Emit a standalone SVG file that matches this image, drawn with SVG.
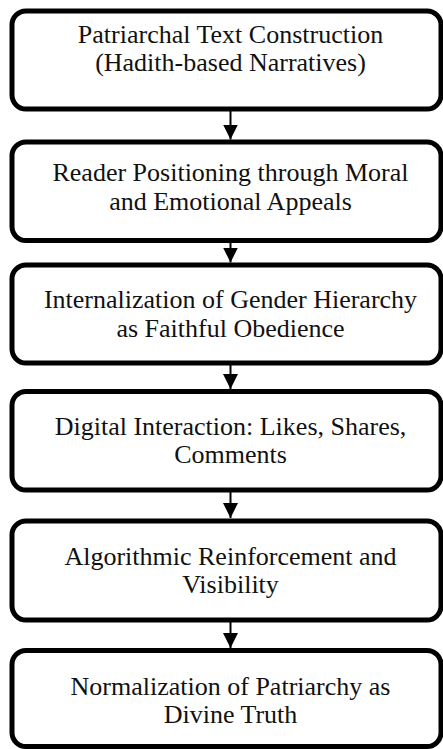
<svg xmlns="http://www.w3.org/2000/svg" width="443" height="749" viewBox="0 0 443 749">
  <style>
    .box { fill: #ffffff; stroke: #000000; stroke-width: 5; }
    .lbl { font-family: "Liberation Serif", "Times New Roman", serif; font-size: 26px; fill: #111111; text-anchor: middle; }
    .conn { stroke: #000000; stroke-width: 2; fill: none; }
  </style>
  <defs>
    <marker id="arrow" markerUnits="userSpaceOnUse" markerWidth="16" markerHeight="16" refX="15" refY="7.5" orient="auto">
      <path d="M0,0 L15,7.5 L0,15 z" fill="#000000"/>
    </marker>
  </defs>
  <rect x="0" y="0" width="443" height="749" fill="#ffffff"/>

  <g id="connectors">
    <line class="conn" x1="230.5" y1="109" x2="230.5" y2="139.5" marker-end="url(#arrow)"/>
    <line class="conn" x1="230.5" y1="240.5" x2="230.5" y2="262.5" marker-end="url(#arrow)"/>
    <line class="conn" x1="230.5" y1="363" x2="230.5" y2="389" marker-end="url(#arrow)"/>
    <line class="conn" x1="230.5" y1="490" x2="230.5" y2="518" marker-end="url(#arrow)"/>
    <line class="conn" x1="230.5" y1="620" x2="230.5" y2="648" marker-end="url(#arrow)"/>
  </g>

  <g id="node1">
    <rect class="box" x="12" y="11" width="429" height="98" rx="14" ry="14"/>
    <text class="lbl" x="230.5" y="43">Patriarchal Text Construction</text>
    <text class="lbl" x="230.5" y="71">(Hadith-based Narratives)</text>
  </g>
  <g id="node2">
    <rect class="box" x="12" y="142" width="429" height="98.5" rx="14" ry="14"/>
    <text class="lbl" x="230.5" y="181">Reader Positioning through Moral</text>
    <text class="lbl" x="230.5" y="210">and Emotional Appeals</text>
  </g>
  <g id="node3">
    <rect class="box" x="12" y="265" width="429" height="98" rx="14" ry="14"/>
    <text class="lbl" x="230.5" y="308">Internalization of Gender Hierarchy</text>
    <text class="lbl" x="230.5" y="337">as Faithful Obedience</text>
  </g>
  <g id="node4">
    <rect class="box" x="12" y="391.5" width="429" height="98.5" rx="14" ry="14"/>
    <text class="lbl" x="230.5" y="435">Digital Interaction: Likes, Shares,</text>
    <text class="lbl" x="230.5" y="463">Comments</text>
  </g>
  <g id="node5">
    <rect class="box" x="12" y="521" width="429" height="99" rx="14" ry="14"/>
    <text class="lbl" x="230.5" y="565">Algorithmic Reinforcement and</text>
    <text class="lbl" x="230.5" y="593">Visibility</text>
  </g>
  <g id="node6">
    <rect class="box" x="12" y="650.5" width="429" height="96" rx="14" ry="14"/>
    <text class="lbl" x="230.5" y="695">Normalization of Patriarchy as</text>
    <text class="lbl" x="230.5" y="723">Divine Truth</text>
  </g>
</svg>
